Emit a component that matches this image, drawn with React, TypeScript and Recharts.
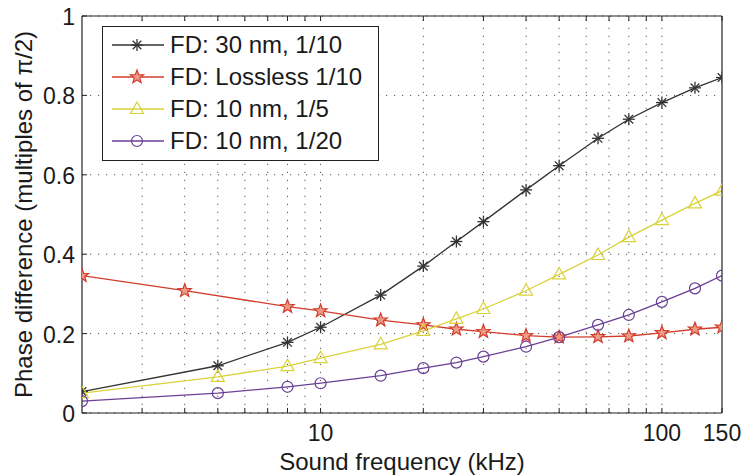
import { CartesianGrid, Label, Line, LineChart, ReferenceLine, XAxis, YAxis } from "recharts";

const FONT = '"Liberation Sans", Arial, Helvetica, sans-serif';

// sound frequency (kHz)
const frequencies = [2, 4, 5, 8, 10, 15, 20, 25, 30, 40, 50, 65, 80, 100, 125, 150];

// phase difference, multiples of pi/2 (null = no sample at that frequency)
const fd30nm = [0.054, null, 0.119, 0.178, 0.216, 0.297, 0.37, 0.432, 0.482, 0.562, 0.623, 0.692, 0.74, 0.782, 0.819, 0.845];
const fdLossless = [0.346, 0.308, null, 0.268, 0.257, 0.234, 0.222, 0.211, 0.205, 0.195, 0.191, 0.192, 0.194, 0.202, 0.211, 0.216];
const fd10nmFifth = [0.05, null, 0.091, 0.118, 0.138, 0.173, 0.207, 0.237, 0.262, 0.308, 0.349, 0.398, 0.443, 0.486, 0.528, 0.56];
const fd10nmTwentieth = [0.03, null, 0.05, 0.066, 0.075, 0.094, 0.113, 0.127, 0.142, 0.167, 0.191, 0.222, 0.247, 0.28, 0.314, 0.346];

const xTicks = [3, 4, 5, 6, 7, 8, 9, 10, 20, 30, 40, 50, 60, 70, 80, 90, 100, 150];
const xGrid = [3, 4, 5, 6, 7, 8, 9, 10, 20, 30, 40, 50, 60, 70, 80, 90, 100];
const xLabelled = [10, 100, 150];
const yTicks = [0, 0.2, 0.4, 0.6, 0.8, 1];

const data = frequencies.map((f, i) => ({
  f,
  a: fd30nm[i],
  b: fdLossless[i],
  c: fd10nmFifth[i],
  d: fd10nmTwentieth[i],
}));

const AXIS = "#222";
const GRID = "#555";
const DOTS = "1.2 6.8";

type Marker = "asterisk" | "star" | "triangle" | "circle";

function MarkerShape({ kind, cx, cy, color }: { kind: Marker; cx: number; cy: number; color: string }) {
  if (kind === "asterisk") {
    const r = 6;
    const d = r * 0.72;
    return (
      <g stroke={color} strokeWidth={1.3}>
        <line x1={cx - r} y1={cy} x2={cx + r} y2={cy} />
        <line x1={cx} y1={cy - r} x2={cx} y2={cy + r} />
        <line x1={cx - d} y1={cy - d} x2={cx + d} y2={cy + d} />
        <line x1={cx - d} y1={cy + d} x2={cx + d} y2={cy - d} />
      </g>
    );
  }
  if (kind === "star") {
    const pts: string[] = [];
    for (let k = 0; k < 10; k++) {
      const r = k % 2 === 0 ? 7 : 2.9;
      const a = -Math.PI / 2 + (k * Math.PI) / 5;
      pts.push(`${cx + r * Math.cos(a)},${cy + r * Math.sin(a)}`);
    }
    return <polygon points={pts.join(" ")} fill="#ee9a85" stroke={color} strokeWidth={1.2} />;
  }
  if (kind === "triangle") {
    return (
      <polygon
        points={`${cx},${cy - 7} ${cx + 6.5},${cy + 4.5} ${cx - 6.5},${cy + 4.5}`}
        fill="none"
        stroke={color}
        strokeWidth={1.2}
      />
    );
  }
  return <circle cx={cx} cy={cy} r={5.5} fill="none" stroke={color} strokeWidth={1.2} />;
}

const series: { key: string; name: string; color: string; marker: Marker }[] = [
  { key: "a", name: "FD: 30 nm, 1/10", color: "#333333", marker: "asterisk" },
  { key: "b", name: "FD: Lossless 1/10", color: "#d23c2c", marker: "star" },
  { key: "c", name: "FD: 10 nm, 1/5", color: "#d9d23a", marker: "triangle" },
  { key: "d", name: "FD: 10 nm, 1/20", color: "#6a3f95", marker: "circle" },
];

function makeDot(kind: Marker, color: string) {
  return (props: any) => {
    const { cx, cy, index, value } = props;
    if (value == null || cx == null || cy == null) return <g key={`e${index}`} />;
    return (
      <g key={`m${index}`}>
        <MarkerShape kind={kind} cx={cx} cy={cy} color={color} />
      </g>
    );
  };
}

function BottomTick({ x, y, payload }: any) {
  const v = payload.value;
  return (
    <g>
      <line x1={x} x2={x} y1={y} y2={y - 5} stroke={AXIS} />
      {xLabelled.includes(v) ? (
        <text x={x} y={y + 28} textAnchor="middle" fontSize={23} fontFamily={FONT} fill="#1a1a1a">
          {v}
        </text>
      ) : null}
    </g>
  );
}

function TopTick({ x, y }: any) {
  return <line x1={x} x2={x} y1={y} y2={y + 5} stroke={AXIS} />;
}

function LeftTick({ x, y, payload }: any) {
  return (
    <g>
      <line x1={x} x2={x + 5} y1={y} y2={y} stroke={AXIS} />
      <text x={x - 7} y={y + 9} textAnchor="end" fontSize={23} fontFamily={FONT} fill="#1a1a1a">
        {String(payload.value)}
      </text>
    </g>
  );
}

function RightTick({ x, y }: any) {
  return <line x1={x} x2={x - 5} y1={y} y2={y} stroke={AXIS} />;
}

function LegendBox() {
  return (
    <div
      style={{
        position: "absolute",
        left: 102,
        top: 26,
        border: "1px solid #222",
        background: "#fff",
        width: 275,
        height: 129,
        padding: "2px 0",
        fontFamily: FONT,
        fontSize: 24,
        color: "#1a1a1a",
      }}
    >
      {series.map((s) => (
        <div key={s.key} style={{ display: "flex", alignItems: "center", height: 32, paddingLeft: 8 }}>
          <svg width={54} height={32} style={{ flex: "none" }}>
            <line x1={1} x2={53} y1={16} y2={16} stroke={s.color} strokeWidth={1.3} />
            <MarkerShape kind={s.marker} cx={26} cy={16} color={s.color} />
          </svg>
          <span style={{ marginLeft: 5, whiteSpace: "nowrap", lineHeight: "32px" }}>{s.name}</span>
        </div>
      ))}
    </div>
  );
}

export default function App() {
  return (
    <div style={{ position: "absolute", left: 0, top: 0, width: 745, height: 475, background: "#fff" }}>
      <LineChart width={745} height={475} data={data} margin={{ top: 0, right: 0, bottom: 0, left: 0 }}>
        <CartesianGrid xAxisId={0} yAxisId={0} vertical={false} stroke={GRID} strokeDasharray={DOTS} />
        {xGrid.map((t) => (
          <ReferenceLine key={t} x={t} xAxisId={0} yAxisId={0} stroke={GRID} strokeDasharray={DOTS} />
        ))}
        <XAxis
          xAxisId={0}
          dataKey="f"
          type="number"
          scale="log"
          domain={[2, 150]}
          allowDataOverflow
          ticks={xTicks}
          interval={0}
          height={62}
          tickSize={0}
          tickMargin={0}
          tickLine={false}
          axisLine={{ stroke: AXIS, strokeWidth: 1.2 }}
          tick={<BottomTick />}
        >
          <Label
            content={({ viewBox }: any) => (
              <text
                x={viewBox.x + viewBox.width / 2}
                y={viewBox.y + 57}
                textAnchor="middle"
                fontSize={24}
                fontFamily={FONT}
                fill="#1a1a1a"
              >
                Sound frequency (kHz)
              </text>
            )}
          />
        </XAxis>
        <XAxis
          xAxisId="top"
          orientation="top"
          dataKey="f"
          type="number"
          scale="log"
          domain={[2, 150]}
          allowDataOverflow
          ticks={xTicks}
          interval={0}
          height={16}
          tickSize={0}
          tickMargin={0}
          tickLine={false}
          axisLine={{ stroke: AXIS, strokeWidth: 1.2 }}
          tick={<TopTick />}
        />
        <YAxis
          yAxisId={0}
          type="number"
          domain={[0, 1]}
          ticks={yTicks}
          interval={0}
          width={82}
          tickSize={0}
          tickMargin={0}
          tickLine={false}
          axisLine={{ stroke: AXIS, strokeWidth: 1.2 }}
          tick={<LeftTick />}
        >
          <Label
            content={({ viewBox }: any) => {
              const lx = viewBox.x + viewBox.width - 50;
              const ly = viewBox.y + viewBox.height / 2;
              return (
                <text
                  x={lx}
                  y={ly}
                  transform={`rotate(-90 ${lx} ${ly})`}
                  textAnchor="middle"
                  fontSize={24}
                  fontFamily={FONT}
                  fill="#1a1a1a"
                >
                  Phase difference (multiples of π/2)
                </text>
              );
            }}
          />
        </YAxis>
        <YAxis
          yAxisId="right"
          orientation="right"
          type="number"
          domain={[0, 1]}
          ticks={yTicks}
          interval={0}
          width={23}
          tickSize={0}
          tickMargin={0}
          tickLine={false}
          axisLine={{ stroke: AXIS, strokeWidth: 1.2 }}
          tick={<RightTick />}
        />
        {series.map((s) => (
          <Line
            key={s.key}
            xAxisId={0}
            yAxisId={0}
            dataKey={s.key}
            name={s.name}
            type="linear"
            stroke={s.color}
            strokeWidth={1.3}
            connectNulls
            dot={makeDot(s.marker, s.color)}
            activeDot={false}
            isAnimationActive={false}
          />
        ))}
      </LineChart>
      <LegendBox />
    </div>
  );
}
